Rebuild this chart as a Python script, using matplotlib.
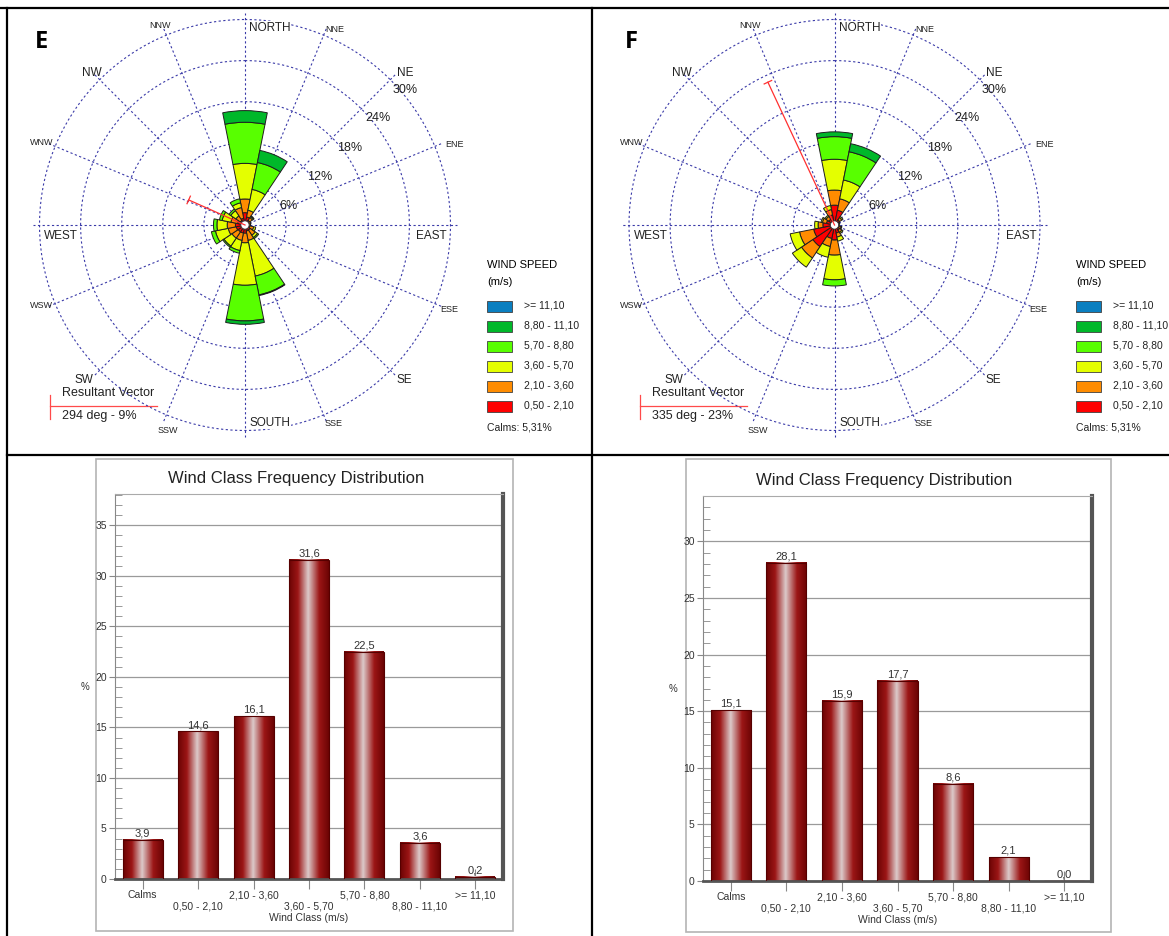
import numpy as np
import matplotlib
matplotlib.use("Agg")
import matplotlib.pyplot as plt
from matplotlib.colors import LinearSegmentedColormap
from matplotlib.patches import Rectangle
from matplotlib.ticker import MultipleLocator

plt.rcParams["font.family"] = ["Liberation Sans", "DejaVu Sans"]

# === DATA ===
directions = ["N", "NNE", "NE", "ENE", "E", "ESE", "SE", "SSE",
              "S", "SSW", "SW", "WSW", "W", "WNW", "NW", "NNW"]
speed_labels = [">= 11,10", "8,80 - 11,10", "5,70 - 8,80",
                "3,60 - 5,70", "2,10 - 3,60", "0,50 - 2,10"]
speed_colors = ["#0a7fc0", "#00b82a", "#58ff00", "#e4ff00", "#ff8c00", "#ff0000"]

# rose E, % per direction (N -> NNW clockwise), one list per speed class
e_050_210 = [1.8, 1.2, 0.8, 0.6, 0.5, 0.7, 0.9, 0.9, 1.2, 1.2, 1.2, 1.3, 1.4, 1.1, 0.8, 1.0]
e_210_360 = [2.0, 1.0, 0.5, 0.3, 0.3, 0.6, 0.9, 1.4, 1.4, 1.1, 1.1, 1.2, 1.2, 1.0, 0.8, 1.6]
e_360_570 = [5.2, 3.1, 0.2, 0.0, 0.0, 0.3, 0.4, 5.3, 6.2, 1.5, 1.4, 1.9, 1.5, 1.3, 0.9, 0.7]
e_570_880 = [6.0, 4.0, 0.1, 0.0, 0.0, 0.0, 0.2, 2.8, 5.2, 0.4, 0.2, 0.6, 0.5, 0.4, 0.3, 0.6]
e_880_1110 = [1.7, 1.8, 0.0, 0.0, 0.0, 0.0, 0.0, 0.1, 0.5, 0.0, 0.0, 0.0, 0.0, 0.0, 0.0, 0.0]
e_1110 = [0.0] * 16

# rose F
f_050_210 = [2.9, 2.2, 0.9, 0.6, 0.5, 0.7, 0.9, 1.2, 2.2, 2.0, 3.8, 3.1, 1.7, 1.2, 1.0, 1.5]
f_210_360 = [2.2, 1.7, 0.4, 0.2, 0.2, 0.3, 0.4, 0.6, 2.2, 1.2, 2.0, 2.1, 0.7, 0.6, 0.5, 0.8]
f_360_570 = [4.5, 2.8, 0.2, 0.0, 0.0, 0.1, 0.2, 0.6, 3.6, 1.6, 1.6, 1.4, 0.5, 0.2, 0.2, 0.6]
f_570_880 = [3.3, 4.2, 0.0, 0.0, 0.0, 0.0, 0.0, 0.0, 0.9, 0.0, 0.0, 0.0, 0.0, 0.0, 0.0, 0.0]
f_880_1110 = [0.7, 1.2, 0.0, 0.0, 0.0, 0.0, 0.0, 0.0, 0.0, 0.0, 0.0, 0.0, 0.0, 0.0, 0.0, 0.0]
f_1110 = [0.0] * 16

e_vector_deg, e_vector_pct = 294, 9
f_vector_deg, f_vector_pct = 335, 23
calms_text = "Calms: 5,31%"
rings = [6, 12, 18, 24, 30]

# bar charts
wind_classes = ["Calms", "0,50 - 2,10", "2,10 - 3,60", "3,60 - 5,70",
                "5,70 - 8,80", "8,80 - 11,10", ">= 11,10"]
e_class_freq = [3.9, 14.6, 16.1, 31.6, 22.5, 3.6, 0.2]
f_class_freq = [15.1, 28.1, 15.9, 17.7, 8.6, 2.1, 0.0]

# === LAYOUT ===
W, H = 1169, 936
PX = 6.85      # pixels per percent on the rose
RMAX = 34

fig = plt.figure(figsize=(W / 100, H / 100), dpi=100)


def px_box(x0, y0, x1, y1):
    return [x0 / W, 1 - y1 / H, (x1 - x0) / W, (y1 - y0) / H]


bg = fig.add_axes([0, 0, 1, 1])
bg.set_xlim(0, W)
bg.set_ylim(H, 0)
bg.axis("off")

# panel frame
for xs, ys in [([0, W], [8, 8]), ([7, W], [455, 455]), ([7, 7], [8, H]), ([592, 592], [8, H])]:
    bg.plot(xs, ys, color="black", lw=1.6)

# compass label positions (text, angle deg, radius %, size, boxed)
compass = [("NORTH", 7.2, 29.0, 8.5, True), ("NNE", 24.8, 31.4, 6.5, False),
           ("NE", 46.5, 32.2, 8.5, False), ("ENE", 69.1, 32.8, 6.5, False),
           ("EAST", 93.4, 27.3, 8.5, True), ("ESE", 112.4, 32.2, 6.5, False),
           ("SE", 134.3, 32.4, 8.5, False), ("SSE", 155.9, 31.8, 6.5, False),
           ("SOUTH", 172.8, 29.1, 8.5, True), ("SSW", 200.6, 32.0, 6.5, False),
           ("SW", 226.1, 32.6, 8.5, False), ("WSW", 248.5, 31.9, 6.5, False),
           ("WEST", 266.6, 26.9, 8.5, True), ("WNW", 292.0, 32.0, 6.5, False),
           ("NW", 314.8, 31.5, 8.5, False), ("NNW", 337.0, 31.7, 6.5, False)]
ring_label_pos = [(66.2, 6.9), (57.4, 13.0), (53.7, 19.0), (51.2, 24.9), (49.8, 30.6)]


def draw_rose(cx, cy, classes, vec_deg, vec_pct, letter, lx):
    ax = fig.add_axes(px_box(cx - RMAX * PX, cy - RMAX * PX, cx + RMAX * PX, cy + RMAX * PX),
                      projection="polar")
    ax.set_theta_zero_location("N")
    ax.set_theta_direction(-1)
    ax.set_ylim(0, RMAX)
    ax.axis("off")

    grid_kw = dict(color="#3a3aa8", lw=0.8, ls=(0, (2, 2.2)), zorder=1)
    t = np.linspace(0, 2 * np.pi, 500)
    for r in rings:
        ax.plot(t, np.full_like(t, r), **grid_kw)
    theta = np.deg2rad(np.arange(len(directions)) * 22.5)
    for th in theta:
        ax.plot([th, th], [0, 31], **grid_kw)

    for (txt, a, r, size, boxed) in compass:
        kw = dict(fontsize=size, ha="center", va="center", color="#222", zorder=5)
        if boxed:
            kw["bbox"] = dict(fc="white", ec="none", pad=0.5)
        ax.text(np.deg2rad(a), r, txt, **kw)
    for ring, (a, r) in zip(rings, ring_label_pos):
        ax.text(np.deg2rad(a), r, f"{ring}%", fontsize=9, ha="center", va="center",
                color="#222", zorder=5)

    # stacked petals, slow classes first
    bottom = np.zeros(len(directions))
    for vals, col in zip(classes[::-1], speed_colors[::-1]):
        vals = np.asarray(vals)
        m = vals > 0
        ax.bar(theta[m], vals[m], width=2 * np.pi / 16, bottom=bottom[m], color=col,
               edgecolor="#1e1e1e", lw=0.7, zorder=3)
        bottom += vals
    ax.fill(t, np.full_like(t, 0.6), color="white", ec="#333", lw=0.6, zorder=4)

    # resultant vector
    th = np.deg2rad(vec_deg)
    ax.plot([th, th], [0, vec_pct], color="#ff3030", lw=0.9, zorder=6)
    ex, ey = vec_pct * np.sin(th), vec_pct * np.cos(th)
    nx, ny = np.cos(th) * 0.6, -np.sin(th) * 0.6
    px_ = np.array([ex + nx, ex - nx])
    py_ = np.array([ey + ny, ey - ny])
    ax.plot(np.arctan2(px_, py_), np.hypot(px_, py_), color="#ff3030", lw=0.9, zorder=6)

    # letter + legends
    bg.text(cx - 210, 42, letter, fontsize=17, fontweight="bold", family="Open Sans",
            ha="left", va="center")
    bg.text(lx, 265, "WIND SPEED", fontsize=8, va="center")
    bg.text(lx, 282, "(m/s)", fontsize=8, va="center")
    for i, (lab, col) in enumerate(zip(speed_labels, speed_colors)):
        y = 306 + 20 * i
        bg.add_patch(Rectangle((lx, y - 5.5), 25, 11, fc=col, ec="#404040", lw=0.6))
        bg.text(lx + 37, y, lab, fontsize=7.5, va="center", color="#222")
    bg.text(lx, 428, calms_text, fontsize=7.5, va="center", color="#222")

    vx = cx - 195
    bg.plot([vx, vx + 107], [406, 406], color="#ff4a4a", lw=0.9)
    bg.plot([vx, vx], [395, 419], color="#ff4a4a", lw=0.9)
    bg.text(vx + 12, 393, "Resultant Vector", fontsize=9, va="center", color="#222")
    bg.text(vx + 12, 416, f"{vec_deg} deg - {vec_pct}%", fontsize=9, va="center", color="#222")


draw_rose(245, 225, [e_1110, e_880_1110, e_570_880, e_360_570, e_210_360, e_050_210],
          e_vector_deg, e_vector_pct, "E", 487)
draw_rose(834.5, 225, [f_1110, f_880_1110, f_570_880, f_360_570, f_210_360, f_050_210],
          f_vector_deg, f_vector_pct, "F", 1076)

# === BAR CHARTS ===
bar_cmap = LinearSegmentedColormap.from_list(
    "cyl", [(0, "#6c0404"), (0.22, "#9c1616"), (0.48, "#dccaca"), (0.76, "#9c1616"), (1, "#6c0404")])
grad = np.linspace(0, 1, 96).reshape(1, -1)


def draw_bars(x0, x1, y_top, y_zero, ymax, yticks_max, vals, title_x, frame):
    ax = fig.add_axes(px_box(x0, y_top, x1, y_zero))
    x = np.arange(len(vals))
    bars = ax.bar(x, vals, width=0.72, color="none", edgecolor="#560000", lw=0.8, zorder=3)
    for b in bars:
        if b.get_height() > 0:
            ax.imshow(grad, cmap=bar_cmap, aspect="auto", interpolation="bilinear", zorder=2.5,
                      extent=(b.get_x(), b.get_x() + b.get_width(), 0, b.get_height()))
    ax.bar_label(bars, labels=[f"{v:.1f}".replace(".", ",") for v in vals],
                 padding=1, fontsize=8, color="#333")
    ax.set_xlim(-0.5, len(vals) - 0.5)
    ax.set_ylim(0, ymax)
    ax.set_yticks(range(0, yticks_max + 1, 5))
    ax.yaxis.set_minor_locator(MultipleLocator(1))
    ax.yaxis.grid(True, color="#9a9a9a", lw=0.9)
    ax.set_axisbelow(True)
    ax.set_xticks(x, labels=[("\n" if i % 2 else "") + lab for i, lab in enumerate(wind_classes)])
    ax.tick_params(axis="x", direction="inout", length=14, color="#888", labelsize=7.5,
                   labelcolor="#333", pad=1)
    ax.tick_params(axis="y", which="major", direction="out", length=4, color="#888",
                   labelsize=7.5, labelcolor="#333", pad=2)
    ax.tick_params(axis="y", which="minor", direction="in", length=5, color="#888")
    ax.spines["left"].set_color("#888")
    ax.spines["top"].set_color("#aaa")
    ax.spines["bottom"].set_color("#555")
    ax.spines["bottom"].set_linewidth(2)
    ax.spines["right"].set_color("#555")
    ax.spines["right"].set_linewidth(3)

    bg.text(title_x, y_top - 15, "Wind Class Frequency Distribution", fontsize=12,
            ha="center", va="center", color="#222")
    bg.text(x0 - 30, (y_top + y_zero) / 2, "%", fontsize=7, ha="center", va="center", color="#333")
    bg.text((x0 + x1) / 2, y_zero + 39, "Wind Class (m/s)", fontsize=7.5, ha="center",
            va="center", color="#333")
    fx0, fy0, fx1, fy1 = frame
    bg.add_patch(Rectangle((fx0, fy0), fx1 - fx0, fy1 - fy0, fc="none", ec="#b4b4b4", lw=1.2))


draw_bars(115, 503, 494, 879, 38.1, 35, e_class_freq, 296, (96, 459, 513, 931))
draw_bars(703, 1092, 496, 881, 34.0, 30, f_class_freq, 884, (686, 459, 1111, 932))

fig.savefig("out.png", dpi=100)
